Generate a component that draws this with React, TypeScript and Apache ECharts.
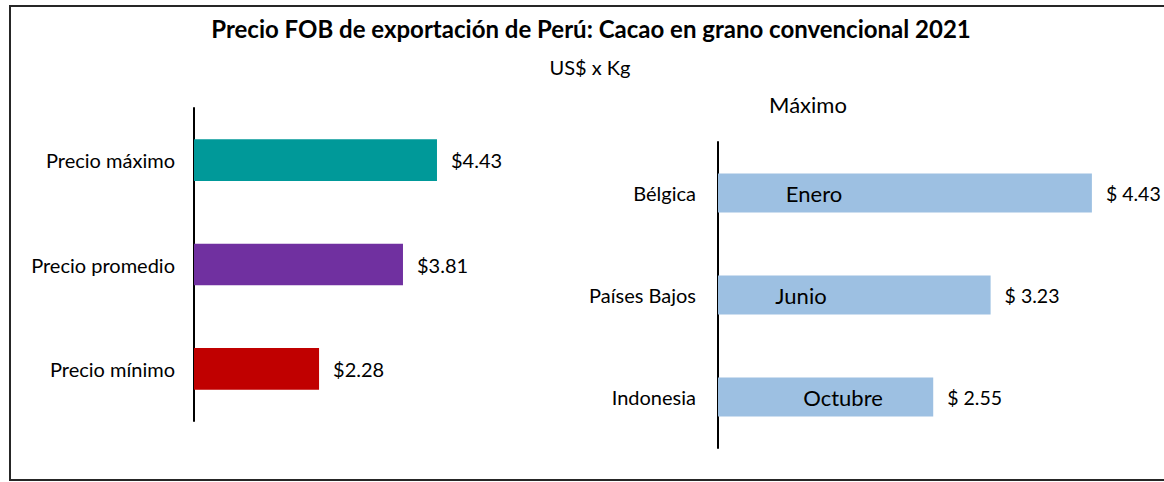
import React, { useEffect, useRef } from "react";
import * as echarts from "echarts";

const titleText = "Precio FOB de exportación de Perú: Cacao en grano convencional 2021";
const subtitleText = "US$ x Kg";
const rightTitleText = "Máximo";

const leftCategories = ["Precio máximo", "Precio promedio", "Precio mínimo"];
const leftValues = [4.43, 3.81, 2.28];
const leftColors = ["#009999", "#7030A0", "#C00000"];

const rightCategories = ["Bélgica", "Países Bajos", "Indonesia"];
const rightValues = [4.43, 3.23, 2.55];
const rightMonths = ["Enero", "Junio", "Octubre"];
const monthLabelX = [96, 83, 125];

const FONT = "Lato";

export default function App() {
  const ref = useRef<HTMLDivElement>(null);
  useEffect(() => {
    document.body.style.margin = "0";
    const chart = echarts.init(ref.current!, null, { renderer: "svg" });
    const catAxis = (gridIndex: number, data: string[], margin: number) => ({
      type: "category",
      gridIndex,
      data,
      inverse: true,
      axisLine: { show: true, lineStyle: { color: "#000", width: 2 } },
      axisTick: { show: false },
      axisLabel: { color: "#000", fontFamily: FONT, fontSize: 20, margin },
    });
    const valAxis = (gridIndex: number, max: number) => ({
      type: "value",
      gridIndex,
      min: 0,
      max,
      show: false,
      splitLine: { show: false },
    });
    chart.setOption({
      animation: false,
      backgroundColor: "#fff",
      graphic: [
        {
          type: "rect",
          shape: { x: 10, y: 6, width: 1170, height: 474 },
          style: { fill: "none", stroke: "#262626", lineWidth: 2 },
          silent: true,
        },
        {
          type: "text",
          x: 591,
          y: 28,
          style: {
            text: titleText,
            fontFamily: FONT,
            fontWeight: "bold",
            fontSize: 24,
            fill: "#000",
            align: "center",
            verticalAlign: "middle",
          },
        },
        {
          type: "text",
          x: 590,
          y: 67,
          style: {
            text: subtitleText,
            fontFamily: FONT,
            fontSize: 20,
            fill: "#000",
            align: "center",
            verticalAlign: "middle",
          },
        },
        {
          type: "text",
          x: 808,
          y: 104,
          style: {
            text: rightTitleText,
            fontFamily: FONT,
            fontSize: 22,
            fill: "#000",
            align: "center",
            verticalAlign: "middle",
          },
        },
      ],
      grid: [
        { left: 194, top: 108, width: 329.1, height: 313 },
        { left: 718, top: 142, width: 422, height: 306 },
      ],
      xAxis: [valAxis(0, 6), valAxis(1, 5)],
      yAxis: [catAxis(0, leftCategories, 19), catAxis(1, rightCategories, 22)],
      series: [
        {
          type: "bar",
          xAxisIndex: 0,
          yAxisIndex: 0,
          barWidth: "40%",
          data: leftValues.map((v, i) => ({ value: v, itemStyle: { color: leftColors[i] } })),
          label: {
            show: true,
            position: "right",
            distance: 14,
            color: "#000",
            fontFamily: FONT,
            fontSize: 20,
            formatter: (p: any) => "$" + p.value.toFixed(2),
          },
        },
        {
          type: "bar",
          xAxisIndex: 1,
          yAxisIndex: 1,
          barWidth: "38%",
          itemStyle: { color: "#9DC0E2" },
          data: rightValues,
          label: {
            show: true,
            position: "right",
            distance: 14,
            color: "#000",
            fontFamily: FONT,
            fontSize: 19.5,
            formatter: (p: any) => "$ " + p.value.toFixed(2),
          },
        },
        {
          type: "bar",
          xAxisIndex: 1,
          yAxisIndex: 1,
          barWidth: "38%",
          barGap: "-100%",
          itemStyle: { color: "rgba(0,0,0,0)" },
          silent: true,
          data: rightValues.map((v, i) => ({
            value: v,
            label: { position: [monthLabelX[i], "50%"] },
          })),
          label: {
            show: true,
            align: "center",
            verticalAlign: "middle",
            color: "#000",
            fontFamily: FONT,
            fontSize: 22,
            formatter: (p: any) => rightMonths[p.dataIndex],
          },
        },
      ],
    });
    return () => chart.dispose();
  }, []);
  return (
    <div
      ref={ref}
      style={{ position: "absolute", left: 0, top: 0, width: 1164, height: 482 }}
    />
  );
}
